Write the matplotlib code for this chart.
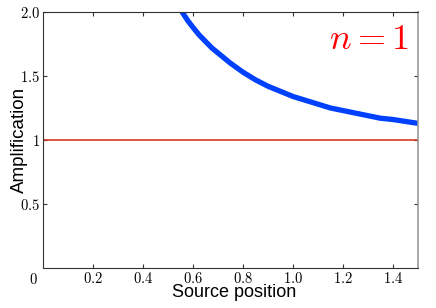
import numpy as np
import matplotlib
matplotlib.use("Agg")
import matplotlib.pyplot as plt

plt.rcParams['mathtext.fontset'] = 'cm'
plt.rcParams['font.family'] = ['Liberation Sans', 'DejaVu Sans']

# source position u and amplification
u = [0.55, 0.56, 0.58, 0.6, 0.625, 0.65, 0.675, 0.7, 0.725, 0.75, 0.8, 0.85, 0.9, 0.95,
     1.0, 1.05, 1.1, 1.15, 1.2, 1.25, 1.3, 1.35, 1.4, 1.45, 1.5]
amp = [2.02, 1.99, 1.93, 1.88, 1.82, 1.77, 1.72, 1.68, 1.64, 1.60, 1.53, 1.47, 1.42, 1.38,
       1.34, 1.31, 1.28, 1.25, 1.23, 1.21, 1.19, 1.17, 1.16, 1.145, 1.13]
baseline = 1.0

xticks = [0.2, 0.4, 0.6, 0.8, 1.0, 1.2, 1.4]
xlabels = ['$0.2$', '$0.4$', '$0.6$', '$0.8$', '$1.0$', '$1.2$', '$1.4$']
yticks = [0.5, 1.0, 1.5, 2.0]
ylabels = ['$0.5$', '$1$', '$1.5$', '$2.0$']

fig = plt.figure(figsize=(4.36, 3.08), dpi=100)
ax = fig.add_axes([0.0986, 0.13, 0.86, 0.831])

ax.axhline(baseline, color='#d42a10', lw=1.1)
ax.plot(u, amp, color='#0040ff', lw=3.8, solid_capstyle='butt')

ax.set_xlim(0, 1.5)
ax.set_ylim(0, 2.0)
ax.set_xticks(xticks)
ax.set_xticklabels(xlabels, fontsize=10.5)
ax.set_yticks(yticks)
ax.set_yticklabels(ylabels, fontsize=10.5)
ax.tick_params(direction='in', length=3, top=True, right=True, pad=2, colors='#333333', labelcolor='black')
for s in ['left', 'bottom', 'top']:
    ax.spines[s].set_color('#333333')
ax.spines['right'].set_color('#999999')
ax.spines['right'].set_linewidth(1.2)

ax.text(-0.015, -0.014, '$0$', transform=ax.transAxes, ha='right', va='top', fontsize=10.5)

ax.set_xlabel('Source position', fontsize=13)
ax.set_ylabel('Amplification', fontsize=13.5)
ax.xaxis.set_label_coords(0.511, -0.064)
ax.yaxis.set_label_coords(-0.04, 0.5)

ax.text(0.975, 0.96, '$n=1$', transform=ax.transAxes, ha='right', va='top', color='red', fontsize=26)

fig.savefig('out.png', dpi=100)
